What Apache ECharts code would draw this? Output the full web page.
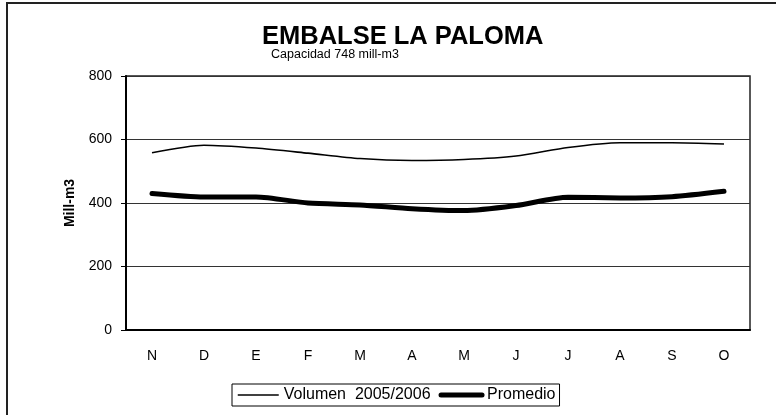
<!DOCTYPE html>
<html>
<head>
<meta charset="utf-8">
<script src="https://cdn.jsdelivr.net/npm/echarts@6/dist/echarts.min.js"></script>
<style>
html,body{margin:0;padding:0;background:#fff;}
#c{width:776px;height:415px;}
</style>
</head>
<body>
<div id="c"></div>
<script>
var categories = ['N','D','E','F','M','A','M','J','J','A','S','O'];
var volumen = [558, 582, 573, 557, 540, 534, 537, 548, 575, 590, 590, 586];
var promedio = [430, 419, 419, 400, 394, 382, 376, 392, 418, 416, 420, 437];
var yTicks = [0, 200, 400, 600, 800];

var chart = echarts.init(document.getElementById('c'), null, {renderer: 'canvas'});
var font = 'Arial, "Liberation Sans", sans-serif';
chart.setOption({
  animation: false,
  backgroundColor: '#fff',
  graphic: [
    {type: 'rect', shape: {x: 7, y: 3, width: 800, height: 450}, style: {fill: 'none', stroke: '#222', lineWidth: 2}, z: -1},
    {type: 'text', left: 271, top: 48, style: {text: 'Capacidad 748 mill-m3', font: '12.5px ' + font, fill: '#000'}}
  ],
  title: {
    text: 'EMBALSE LA PALOMA',
    left: 262,
    top: 24,
    padding: 0,
    textStyle: {fontFamily: font, fontSize: 25.5, fontWeight: 'bold', color: '#000'}
  },
  legend: {
    top: 384,
    left: 232,
    orient: 'horizontal',
    itemWidth: 41,
    itemHeight: 10,
    itemGap: 8,
    padding: [3, 4, 3, 5],
    borderColor: '#000',
    borderWidth: 1,
    textStyle: {fontFamily: font, fontSize: 16, color: '#000'},
    data: [
      {name: 'Volumen  2005/2006', itemStyle: {opacity: 0}, lineStyle: {width: 1.5, color: '#000'}},
      {name: 'Promedio', itemStyle: {opacity: 0}, lineStyle: {width: 5, color: '#000'}}
    ]
  },
  grid: {left: 126, right: 26, top: 76, bottom: 85, show: true, borderColor: '#222', borderWidth: 1.5},
  xAxis: {
    type: 'category',
    data: categories,
    boundaryGap: true,
    axisLine: {lineStyle: {color: '#000', width: 2}},
    axisTick: {inside: true, length: 5, lineStyle: {color: '#000', width: 1.5}},
    axisLabel: {fontFamily: font, fontSize: 14, color: '#000', margin: 19}
  },
  yAxis: {
    type: 'value',
    min: yTicks[0],
    max: yTicks[yTicks.length - 1],
    interval: 200,
    name: 'Mill-m3',
    nameLocation: 'middle',
    nameGap: 49,
    nameTextStyle: {fontFamily: font, fontSize: 14, fontWeight: 'bold', color: '#000'},
    axisLine: {show: true, lineStyle: {color: '#000', width: 2}},
    axisTick: {show: true, inside: false, length: 5, lineStyle: {color: '#000'}},
    axisLabel: {fontFamily: font, fontSize: 14, color: '#000', margin: 14},
    splitLine: {show: true, lineStyle: {color: '#333', width: 1}}
  },
  series: [
    {
      name: 'Volumen  2005/2006',
      type: 'line',
      data: volumen,
      smooth: 0.25,
      symbol: 'none',
      lineStyle: {color: '#000', width: 1.6},
      itemStyle: {color: '#000'}
    },
    {
      name: 'Promedio',
      type: 'line',
      data: promedio,
      smooth: 0.25,
      symbol: 'none',
      lineStyle: {color: '#000', width: 5, cap: 'round'},
      itemStyle: {color: '#000'}
    }
  ]
});
</script>
</body>
</html>
